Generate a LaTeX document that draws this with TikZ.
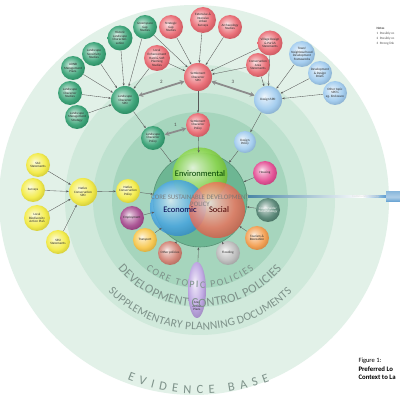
\documentclass[tikz,border=0pt]{standalone}
\usepackage{fontspec}
\setmainfont{Carlito}
\usetikzlibrary{arrows.meta,shapes.geometric,decorations.text}

\definecolor{evidence}{HTML}{E2F1E8}
\definecolor{spdring}{HTML}{D0E9DB}
\definecolor{dcring}{HTML}{BEE1CF}
\definecolor{topicring}{HTML}{A6D5BD}
\definecolor{corefill}{HTML}{6DB693}
\definecolor{lscape}{HTML}{2E9E6F}
\definecolor{settle}{HTML}{E8626B}
\definecolor{design}{HTML}{9CC9EE}
\definecolor{native}{HTML}{F2EA3C}
\definecolor{ringtext}{HTML}{7E928A}
\definecolor{housingcol}{HTML}{E2468F}
\definecolor{ruralcol}{HTML}{4E7F6E}
\definecolor{tourcol}{HTML}{F39A48}
\definecolor{floodcol}{HTML}{B8B8B8}
\definecolor{othercol}{HTML}{CF7A6C}
\definecolor{transcol}{HTML}{F7C443}
\definecolor{employcol}{HTML}{A3458B}
\definecolor{aapcol}{HTML}{B9A0E0}
\definecolor{envcol}{HTML}{7FD23A}
\definecolor{ecocol}{HTML}{3A9FE2}
\definecolor{soccol}{HTML}{F2654E}
\definecolor{commbar}{HTML}{4A86A6}
\definecolor{commend}{HTML}{5D9CCF}

\colorlet{sphcol}{white}
\pgfdeclareradialshading[sphcol]{softball}{\pgfpoint{-7bp}{7bp}}{%
  color(0bp)=(sphcol!15!white); color(7bp)=(sphcol!45!white); color(20bp)=(sphcol!90!white);
  color(30bp)=(sphcol!85!black); color(50bp)=(sphcol!70!black)}

\newcommand{\nodefont}{\fontsize{3.3}{3.7}\selectfont}

\tikzset{
  sph/.style={/utils/exec={\colorlet{sphcol}{#1}}, shade, shading=softball},
  sphere/.style={circle, inner sep=0pt, minimum size=24pt, align=center, font=\nodefont, text=black!85},
  spdball/.style={sphere, minimum size=28pt},
  link/.style={draw=black!65, line width=0.35pt, -{Stealth[length=2.6pt,width=2pt]}},
  strong/.style={draw=black!45, line width=1.8pt, {Stealth[length=4.5pt,width=5pt]}-{Stealth[length=4.5pt,width=5pt]}},
  numlabel/.style={font=\fontsize{5}{5}\selectfont, text=black!70}
}

\begin{document}
\begin{tikzpicture}[x=1pt,y=1pt]

\useasboundingbox (0,0) rectangle (400,400);
\fill[white] (0,0) rectangle (400,400);

% rings
\fill[evidence] (194,200) circle (195);
\fill[spdring] (200,200) circle (135);
\fill[dcring] (200,200) circle (107);
\fill[topicring] (200,200) circle (88);

\node[ellipse, inner sep=0pt, minimum width=18pt, minimum height=56pt, sph=aapcol] (aap) at (197,110) {};
\node[font=\nodefont, text=black!85, align=center] (aaplabel) at (197,94) {Area\\Action\\Plans};

\path[decorate, decoration={text along path, text align={fit to path}, text color=ringtext,
  text={|\fontsize{10}{10}\selectfont|CORE  TOPIC  POLICIES}}]
  (200,200) ++(232:88) arc[start angle=232, end angle=308, radius=88];
\path[decorate, decoration={text along path, text align={fit to path}, text color=ringtext,
  text={|\fontsize{12.5}{12.5}\selectfont|DEVELOPMENT CONTROL POLICIES}}]
  (200,200) ++(220:107) arc[start angle=220, end angle=320, radius=107];
\path[decorate, decoration={text along path, text align={fit to path}, text color=ringtext,
  text={|\fontsize{11.5}{11.5}\selectfont|SUPPLEMENTARY PLANNING DOCUMENTS}}]
  (200,200) ++(225:130) arc[start angle=225, end angle=315, radius=130];
\path[decorate, decoration={text along path, text align={fit to path}, text color=ringtext,
  text={|\fontsize{12.5}{12.5}\selectfont|EVIDENCE BASE}}]
  (200,200) ++(248:194) arc[start angle=248, end angle=291, radius=194];

% community strategy bar
\shade[left color=commbar, right color=white] (248,202) rectangle (362,204);
\shade[left color=white, right color=commend] (362,202) rectangle (386,204);
\shade[top color=commend!70, bottom color=commend, middle color=commend!50] (386,198) rectangle (400,208);
\node[font=\nodefont, text=white!70!gray] (comm) at (366,203) {Community Strategy};

% core
\node[circle, minimum size=94pt, fill=corefill, draw=corefill!80!black, line width=0.6pt] (core) at (200,200) {};
\node[circle, minimum size=55pt, sph=envcol, opacity=0.9] (env) at (200,225) {};
\node[circle, minimum size=56pt, sph=ecocol, opacity=0.85] (eco) at (178,192) {};
\node[circle, minimum size=56pt, sph=soccol, opacity=0.8] (soc) at (217,190) {};
\node[font=\fontsize{8.5}{8.5}\selectfont, text=green!25!black] (envtext) at (200,226) {Environmental};
\node[font=\fontsize{8.5}{8.5}\selectfont, text=blue!30!black] (ecotext) at (180,190) {Economic};
\node[font=\fontsize{8.5}{8.5}\selectfont, text=red!30!black] (soctext) at (219,190) {Social};
\node[font=\fontsize{6.8}{6.8}\selectfont, text=black!55, opacity=0.85, align=center] (coretext) at (200,199) {CORE SUSTAINABLE DEVELOPMENT\\POLICY};

% landscape
\node[spdball, sph=lscape] (lspd) at (125,300) {Landscape\\Character\\SPD};
\node[sphere, sph=lscape] (lms) at (77,283) {Landscape\\Management\\Strategy};
\node[sphere, sph=lscape] (lcs) at (70,307) {Landscape\\Character\\Studies};
\node[sphere, sph=lscape] (aonb) at (73,332) {AONB\\Management\\Plans};
\node[sphere, sph=lscape] (lss) at (94,346) {Landscape\\Sensitivity\\Studies};
\node[sphere, sph=lscape, minimum size=25pt] (hlc) at (120,362) {Historic\\Landscape\\Characteri-\\sation};
\node[sphere, sph=lscape] (ggs) at (145,373) {Greenspace\\Gap\\Studies};
\node[sphere, sph=lscape] (lcp) at (153,262) {Landscape\\Character\\Policy};

% settlement
\node[spdball, sph=settle] (sspd) at (198,323) {Settlement\\Character\\SPD};
\node[sphere, sph=settle] (sgs) at (171,373) {Strategic\\Gap\\Studies};
\node[sphere, sph=settle, minimum size=26pt] (eius) at (203,380) {Extensive \&\\Intensive\\Urban\\Surveys};
\node[sphere, sph=settle] (arch) at (230,373) {Archaeology\\Studies};
\node[sphere, sph=settle, minimum size=25pt] (vdps) at (270,357) {Village Design\\\& Parish\\Statements};
\node[sphere, sph=settle] (cas) at (258,335) {Conservation\\Area\\Statements};
\node[sphere, sph=settle, minimum size=26pt] (lep) at (157,342) {Local\\Enhancement\\Hard \& Soft\\Planning\\Studies};
\node[sphere, sph=settle] (scp) at (198,275) {Settlement\\Character\\Policy};

% design
\node[spdball, sph=design] (dspd) at (268,300) {Design SPD};
\node[sphere, sph=design, minimum size=26pt] (tndf) at (302,346) {Town/\\Neighbourhood\\Development\\Frameworks};
\node[sphere, sph=design] (ddb) at (320,327) {Development\\\& Design\\Briefs};
\node[sphere, sph=design] (ots) at (335,307) {Other topic\\SPD's\\eg. Enclosure};
\node[sphere, sph=design, minimum size=22pt] (dp) at (245,258) {Design\\Policy};

% native conservation
\node[spdball, sph=native] (ncspd) at (83,208) {Native\\Conservation\\SPD};
\node[sphere, sph=native] (sac) at (38,235) {SAC\\Statements};
\node[sphere, sph=native] (surv) at (33,210) {Surveys};
\node[sphere, sph=native, minimum size=26pt] (lbap) at (37,182) {Local\\Biodiversity\\Action Plan};
\node[sphere, sph=native] (sssi) at (58,158) {SSSI\\Statements};
\node[sphere, sph=native] (ncp) at (128,209) {Native\\Conservation\\Policy};

% topic policies
\node[sphere, sph=housingcol] (hous) at (265,227) {Housing};
\node[sphere, sph=ruralcol, text=white] (crs) at (268,190) {Countryside/\\Rural Strategy};
\node[sphere, sph=tourcol] (tour) at (257,162) {Tourism \&\\Recreation};
\node[sphere, sph=floodcol] (flood) at (228,147) {Flooding};
\node[sphere, sph=othercol] (oth) at (170,147) {Other policies};
\node[sphere, sph=transcol] (trans) at (145,160) {Transport};
\node[sphere, sph=employcol] (emp) at (132,182) {Employment};

% evidence to SPDs
\draw[link] (lms) -- (lspd);
\draw[link] (lcs) -- (lspd);
\draw[link] (aonb) -- (lspd);
\draw[link] (lss) -- (lspd);
\draw[link] (hlc) -- (lspd);
\draw[link] (ggs) -- (lspd);
\draw[link] (lep) -- (lspd);
\draw[link] (ggs) -- (sspd);
\draw[link] (sgs) -- (sspd);
\draw[link] (eius) -- (sspd);
\draw[link] (arch) -- (sspd);
\draw[link] (vdps) -- (sspd);
\draw[link] (cas) -- (sspd);
\draw[link] (lep) -- (sspd);
\draw[link] (vdps) -- (dspd);
\draw[link] (cas) -- (dspd);
\draw[link] (tndf) -- (dspd);
\draw[link] (ddb) -- (dspd);
\draw[link] (ots) -- (dspd);
\draw[link] (sac) -- (ncspd);
\draw[link] (surv) -- (ncspd);
\draw[link] (lbap) -- (ncspd);
\draw[link] (sssi) -- (ncspd);

% SPDs to policies
\draw[link] (lspd) -- (lcp);
\draw[link] (sspd) -- (scp);
\draw[link] (dspd) -- (dp);
\draw[link] (ncspd) -- (ncp);

% policies to core
\draw[link] (lcp) -- (core);
\draw[link] (scp) -- (core);
\draw[link] (dp) -- (core);
\draw[link] (ncp) -- (core);
\draw[link] (hous) -- (core);
\draw[link] (crs) -- (core);
\draw[link] (tour) -- (core);
\draw[link] (flood) -- (core);
\draw[link] (aap) -- (core);
\draw[link] (oth) -- (core);
\draw[link] (trans) -- (core);
\draw[link] (emp) -- (core);

% strong links
\draw[strong] (lcp) -- (scp) node[numlabel, midway, above=1pt] (n1) {1};
\draw[strong] (lspd) -- (sspd) node[numlabel, midway, above=1pt] (n2) {2};
\draw[strong] (sspd) -- (dspd) node[numlabel, midway, above=1pt] (n3) {3};

% notes
\node[anchor=west, font=\fontsize{3.3}{3.8}\selectfont\bfseries, text=black!70] (notes) at (373,372) {Notes};
\node[anchor=west, font=\fontsize{3.3}{3.8}\selectfont, text=black!70] (note1) at (373,366) {1\enspace Possibly co};
\node[anchor=west, font=\fontsize{3.3}{3.8}\selectfont, text=black!70] (note2) at (373,361) {2\enspace Possibly co};
\node[anchor=west, font=\fontsize{3.3}{3.8}\selectfont, text=black!70] (note3) at (373,356) {3\enspace Strong link};

% caption
\node[anchor=west, font=\fontsize{6.5}{7.5}\selectfont] (fig) at (355,39) {Figure 1:};
\node[anchor=west, font=\fontsize{6.8}{7.5}\selectfont\bfseries] (figa) at (355,31) {Preferred Lo};
\node[anchor=west, font=\fontsize{6.8}{7.5}\selectfont\bfseries] (figb) at (355,23) {Context to La};

\end{tikzpicture}
\end{document}
